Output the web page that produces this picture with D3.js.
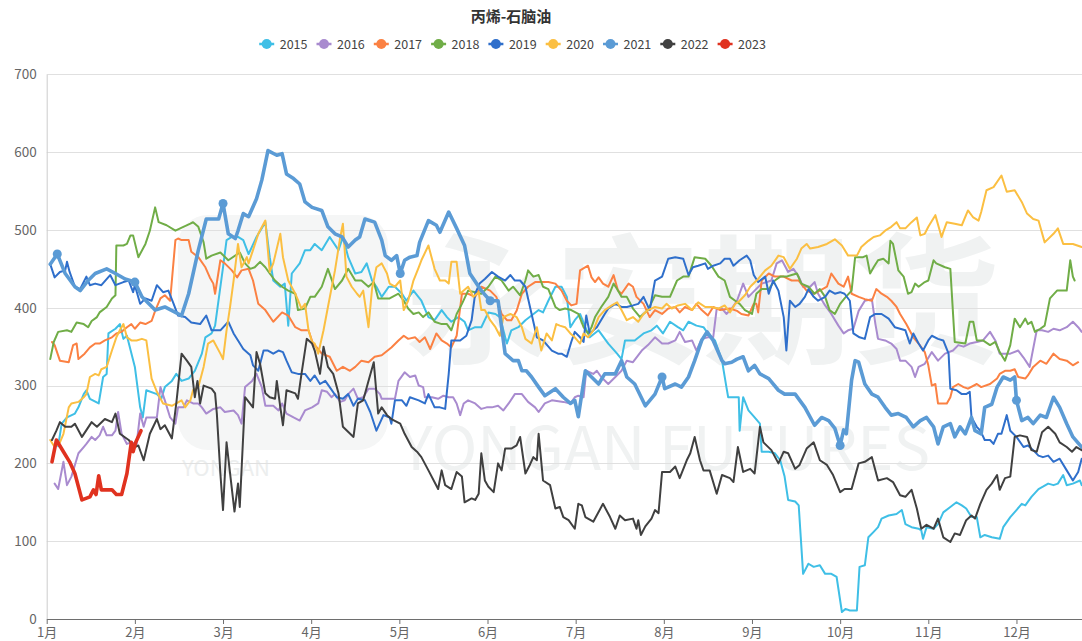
<!DOCTYPE html>
<html><head><meta charset="utf-8">
<script src="https://cdn.jsdelivr.net/npm/d3@7"></script>
<style>
html,body{margin:0;padding:0;background:#fff;}
svg{display:block;font-family:"Microsoft YaHei","Noto Sans CJK SC","Noto Sans",sans-serif;}
</style></head>
<body>
<svg id="chart" width="1082" height="641"></svg>
<script>
// ---- data (x = month position, 0 = 1 Jan, 1 = 1 Feb ...; y = spread) ----
const title = "丙烯-石脑油";
const years = ["2015","2016","2017","2018","2019","2020","2021","2022","2023"];
const monthLabels = ["1月","2月","3月","4月","5月","6月","7月","8月","9月","10月","11月","12月"];
const yTicks = [0,100,200,300,400,500,600,700];

const s2015 = [[0.13,222],[0.17,251],[0.23,259],[0.32,264],[0.36,272],[0.42,289],[0.45,294],[0.49,283],[0.59,277],[0.64,311],[0.68,315],[0.70,367],[0.78,373],[0.83,379],[0.87,360],[0.91,364],[1.00,324],[1.06,272],[1.09,259],[1.13,294],[1.25,289],[1.30,283],[1.34,298],[1.42,306],[1.47,315],[1.53,306],[1.61,309],[1.68,319],[1.76,341],[1.80,362],[1.87,367],[1.91,377],[2.00,452],[2.04,487],[2.10,491],[2.17,491],[2.23,487],[2.29,469],[2.38,491],[2.48,510],[2.53,465],[2.57,435],[2.65,427],[2.70,431],[2.74,377],[2.78,444],[2.87,457],[2.93,474],[2.99,474],[3.04,482],[3.12,474],[3.21,491],[3.31,474],[3.36,491],[3.42,465],[3.50,444],[3.57,446],[3.63,457],[3.69,435],[3.74,427],[3.80,414],[3.88,427],[3.95,427],[4.03,418],[4.08,409],[4.16,422],[4.25,409],[4.33,388],[4.40,384],[4.48,397],[4.54,388],[4.59,382],[4.67,388],[4.74,382],[4.78,371],[4.86,375],[4.93,375],[5.01,394],[5.09,392],[5.14,388],[5.22,354],[5.27,371],[5.35,375],[5.43,384],[5.50,390],[5.58,397],[5.63,394],[5.69,409],[5.77,427],[5.84,427],[5.90,414],[5.94,375],[5.99,384],[6.05,392],[6.11,375],[6.16,362],[6.26,371],[6.37,354],[6.47,341],[6.52,334],[6.56,358],[6.67,358],[6.77,367],[6.86,371],[6.92,377],[6.99,367],[7.07,382],[7.16,375],[7.22,371],[7.28,382],[7.37,377],[7.45,375],[7.50,367],[7.58,358],[7.66,332],[7.71,298],[7.73,285],[7.85,285],[7.86,242],[7.90,285],[7.96,268],[8.03,259],[8.09,251],[8.11,215],[8.19,215],[8.26,213],[8.32,204],[8.37,183],[8.41,153],[8.49,151],[8.53,146],[8.58,58],[8.64,71],[8.70,67],[8.77,69],[8.83,58],[8.90,58],[8.96,54],[9.02,9],[9.06,13],[9.11,11],[9.19,11],[9.22,67],[9.28,69],[9.32,105],[9.38,112],[9.43,118],[9.47,129],[9.55,133],[9.64,135],[9.70,140],[9.74,122],[9.81,118],[9.89,116],[9.92,114],[9.94,103],[9.98,118],[10.06,116],[10.11,122],[10.17,137],[10.25,144],[10.32,150],[10.38,146],[10.43,142],[10.49,131],[10.55,131],[10.59,105],[10.64,108],[10.72,105],[10.81,103],[10.85,118],[10.93,131],[11.00,140],[11.06,148],[11.10,146],[11.17,157],[11.25,167],[11.30,170],[11.36,174],[11.42,172],[11.47,174],[11.53,185],[11.57,172],[11.64,174],[11.72,178],[11.74,172]];

const s2016 = [[0.09,174],[0.13,167],[0.19,202],[0.23,172],[0.28,183],[0.32,198],[0.36,213],[0.42,221],[0.45,225],[0.51,234],[0.55,230],[0.60,236],[0.64,247],[0.68,236],[0.74,236],[0.78,242],[0.81,266],[0.85,238],[0.91,225],[0.96,227],[1.02,225],[1.06,264],[1.10,247],[1.13,259],[1.25,259],[1.29,298],[1.34,281],[1.40,259],[1.46,251],[1.49,272],[1.55,272],[1.59,281],[1.66,277],[1.72,277],[1.76,272],[1.81,264],[1.89,270],[1.97,272],[2.02,266],[2.12,268],[2.17,262],[2.21,251],[2.25,298],[2.33,306],[2.38,315],[2.44,298],[2.48,274],[2.57,274],[2.63,268],[2.67,277],[2.72,264],[2.80,259],[2.87,255],[2.93,268],[3.01,272],[3.08,277],[3.12,294],[3.18,292],[3.23,285],[3.27,289],[3.33,279],[3.38,281],[3.42,289],[3.48,296],[3.53,283],[3.59,285],[3.65,296],[3.72,296],[3.78,289],[3.80,283],[3.89,283],[3.95,283],[3.99,306],[4.06,317],[4.12,311],[4.18,313],[4.22,300],[4.27,298],[4.29,285],[4.37,285],[4.44,283],[4.50,287],[4.56,285],[4.61,285],[4.65,277],[4.69,262],[4.73,277],[4.78,281],[4.86,277],[4.93,270],[4.99,272],[5.05,272],[5.12,274],[5.18,268],[5.24,277],[5.31,289],[5.39,289],[5.46,279],[5.54,272],[5.58,266],[5.65,277],[5.73,281],[5.86,279],[5.94,277],[5.99,285],[6.03,287],[6.09,285],[6.12,319],[6.20,315],[6.24,319],[6.29,311],[6.37,302],[6.45,311],[6.52,319],[6.58,332],[6.65,330],[6.75,345],[6.82,352],[6.90,362],[6.98,354],[7.05,354],[7.13,358],[7.18,369],[7.24,356],[7.32,358],[7.37,345],[7.43,360],[7.50,362],[7.56,362],[7.60,399],[7.66,399],[7.71,392],[7.77,399],[7.83,409],[7.90,431],[7.96,414],[8.03,422],[8.11,431],[8.17,433],[8.22,435],[8.28,457],[8.34,461],[8.41,446],[8.47,450],[8.53,440],[8.58,427],[8.66,427],[8.71,433],[8.75,418],[8.83,403],[8.90,392],[8.98,377],[9.04,367],[9.09,371],[9.15,373],[9.21,396],[9.28,409],[9.36,411],[9.40,379],[9.43,360],[9.51,358],[9.58,354],[9.64,347],[9.68,332],[9.74,332],[9.81,324],[9.85,311],[9.89,324],[9.96,328],[10.04,343],[10.11,332],[10.19,341],[10.28,345],[10.34,352],[10.40,350],[10.47,354],[10.55,356],[10.62,358],[10.70,369],[10.76,358],[10.81,341],[10.93,341],[11.02,345],[11.08,336],[11.15,324],[11.23,371],[11.29,371],[11.36,369],[11.42,373],[11.49,371],[11.57,375],[11.64,382],[11.70,375],[11.74,369]];

const s2017 = [[0.06,356],[0.09,352],[0.15,332],[0.25,330],[0.30,352],[0.34,354],[0.36,334],[0.43,341],[0.49,349],[0.55,354],[0.60,354],[0.66,358],[0.74,362],[0.79,367],[0.85,369],[0.91,375],[0.96,379],[1.00,373],[1.06,381],[1.12,379],[1.19,383],[1.23,396],[1.29,412],[1.34,416],[1.40,409],[1.46,487],[1.49,489],[1.53,487],[1.61,487],[1.64,472],[1.72,465],[1.80,452],[1.85,439],[1.89,431],[1.91,418],[1.97,461],[2.02,457],[2.10,448],[2.16,439],[2.21,448],[2.29,450],[2.34,435],[2.40,405],[2.48,397],[2.57,382],[2.67,394],[2.74,390],[2.82,375],[2.89,371],[2.97,371],[3.02,354],[3.08,347],[3.12,341],[3.21,337],[3.29,319],[3.36,324],[3.44,319],[3.50,324],[3.57,332],[3.65,330],[3.72,337],[3.80,339],[3.91,349],[3.99,358],[4.05,364],[4.10,360],[4.18,362],[4.23,356],[4.29,362],[4.35,347],[4.42,367],[4.48,358],[4.54,354],[4.59,349],[4.65,364],[4.71,418],[4.78,418],[4.86,414],[4.93,427],[5.03,422],[5.10,414],[5.16,392],[5.22,384],[5.27,384],[5.33,396],[5.39,418],[5.46,427],[5.54,433],[5.61,433],[5.69,433],[5.77,431],[5.84,422],[5.90,409],[5.95,403],[6.01,405],[6.05,448],[6.14,454],[6.18,439],[6.22,433],[6.26,439],[6.31,431],[6.37,427],[6.43,442],[6.48,422],[6.52,418],[6.60,431],[6.65,427],[6.69,414],[6.77,405],[6.84,388],[6.90,397],[6.98,392],[7.05,399],[7.13,401],[7.18,394],[7.24,401],[7.32,397],[7.37,405],[7.43,397],[7.50,390],[7.56,401],[7.64,397],[7.75,399],[7.83,396],[7.88,392],[7.96,390],[8.02,405],[8.05,405],[8.07,394],[8.11,435],[8.19,444],[8.26,440],[8.36,440],[8.45,435],[8.53,435],[8.62,422],[8.70,418],[8.77,422],[8.85,427],[8.90,444],[8.98,431],[9.04,427],[9.09,440],[9.13,418],[9.21,414],[9.28,411],[9.36,409],[9.41,424],[9.47,418],[9.53,414],[9.58,409],[9.64,401],[9.68,392],[9.75,379],[9.83,362],[9.89,354],[9.96,343],[10.00,326],[10.04,300],[10.08,302],[10.11,277],[10.21,277],[10.25,285],[10.28,298],[10.34,302],[10.40,298],[10.45,296],[10.55,302],[10.60,298],[10.70,302],[10.78,309],[10.81,315],[10.87,319],[10.93,319],[10.98,321],[11.02,311],[11.10,309],[11.13,313],[11.19,324],[11.27,332],[11.34,328],[11.42,341],[11.49,334],[11.57,332],[11.64,326],[11.70,330]];

const s2018 = [[0.04,334],[0.08,356],[0.13,369],[0.23,371],[0.28,369],[0.34,381],[0.42,379],[0.47,375],[0.51,383],[0.57,388],[0.60,394],[0.68,401],[0.74,412],[0.78,416],[0.79,480],[0.87,480],[0.91,482],[0.95,493],[0.98,493],[1.04,465],[1.12,482],[1.17,499],[1.23,529],[1.27,510],[1.36,506],[1.46,499],[1.55,504],[1.63,508],[1.66,510],[1.72,504],[1.78,484],[1.81,463],[1.87,467],[1.97,471],[2.06,461],[2.19,471],[2.25,457],[2.31,450],[2.36,452],[2.42,459],[2.48,452],[2.53,444],[2.59,435],[2.67,427],[2.74,422],[2.82,418],[2.85,397],[2.93,399],[2.99,414],[3.04,414],[3.12,427],[3.19,450],[3.27,424],[3.35,435],[3.42,450],[3.50,435],[3.57,435],[3.65,427],[3.71,433],[3.76,412],[3.89,412],[3.99,418],[4.05,409],[4.10,399],[4.16,392],[4.22,394],[4.27,388],[4.33,394],[4.40,382],[4.48,379],[4.54,379],[4.59,371],[4.65,392],[4.71,405],[4.78,422],[4.86,420],[4.93,418],[5.01,427],[5.09,440],[5.16,435],[5.24,422],[5.29,427],[5.37,416],[5.43,435],[5.46,448],[5.52,440],[5.58,442],[5.63,427],[5.69,424],[5.77,401],[5.82,397],[5.88,399],[5.95,397],[6.03,392],[6.09,375],[6.14,367],[6.18,375],[6.22,388],[6.29,401],[6.37,414],[6.43,431],[6.47,424],[6.52,414],[6.58,414],[6.65,399],[6.73,388],[6.82,397],[6.90,416],[6.98,414],[7.07,414],[7.15,435],[7.22,440],[7.28,440],[7.35,465],[7.47,463],[7.54,454],[7.62,440],[7.69,435],[7.75,414],[7.81,409],[7.86,405],[7.92,397],[8.00,392],[8.05,418],[8.11,424],[8.19,424],[8.26,435],[8.32,440],[8.39,440],[8.45,442],[8.51,444],[8.56,431],[8.64,427],[8.71,418],[8.77,424],[8.83,414],[8.88,397],[8.94,392],[9.00,405],[9.05,412],[9.13,422],[9.17,465],[9.26,465],[9.30,467],[9.34,444],[9.38,452],[9.43,461],[9.49,463],[9.55,457],[9.57,486],[9.60,482],[9.66,448],[9.72,440],[9.77,418],[9.81,420],[9.85,431],[9.89,427],[9.96,433],[10.00,435],[10.06,461],[10.09,457],[10.19,452],[10.25,450],[10.30,356],[10.42,354],[10.47,382],[10.51,382],[10.55,358],[10.62,358],[10.70,352],[10.76,356],[10.81,343],[10.87,332],[10.93,352],[10.98,386],[11.04,375],[11.10,386],[11.13,379],[11.17,382],[11.21,369],[11.27,373],[11.32,377],[11.38,412],[11.46,422],[11.57,422],[11.61,461],[11.64,440],[11.66,435]];

const s2019 = [[0.04,456],[0.09,439],[0.15,446],[0.21,448],[0.23,459],[0.26,446],[0.32,427],[0.38,424],[0.45,440],[0.49,429],[0.55,431],[0.62,429],[0.72,442],[0.78,429],[0.87,433],[0.93,435],[0.98,420],[1.00,429],[1.06,405],[1.12,412],[1.19,409],[1.25,429],[1.32,420],[1.38,422],[1.44,405],[1.49,390],[1.57,388],[1.64,381],[1.74,379],[1.81,390],[1.87,371],[1.97,371],[2.06,382],[2.12,367],[2.17,358],[2.23,347],[2.31,339],[2.34,326],[2.40,319],[2.46,345],[2.51,345],[2.57,341],[2.63,345],[2.68,343],[2.72,332],[2.78,317],[2.85,315],[2.93,315],[2.99,306],[3.04,313],[3.10,302],[3.16,306],[3.21,298],[3.29,285],[3.36,283],[3.42,289],[3.48,274],[3.53,283],[3.61,281],[3.67,266],[3.74,242],[3.82,262],[3.89,259],[3.91,251],[3.95,281],[4.03,281],[4.08,274],[4.12,285],[4.22,281],[4.29,277],[4.33,289],[4.40,272],[4.46,272],[4.52,270],[4.56,315],[4.59,358],[4.69,358],[4.76,364],[4.82,384],[4.86,418],[4.91,431],[4.97,437],[5.05,446],[5.12,440],[5.20,435],[5.26,442],[5.31,435],[5.37,435],[5.43,427],[5.50,392],[5.56,362],[5.63,358],[5.73,345],[5.80,341],[5.84,341],[5.90,337],[5.95,356],[5.99,369],[6.05,362],[6.09,356],[6.12,390],[6.16,367],[6.24,375],[6.33,392],[6.37,399],[6.45,405],[6.52,401],[6.58,401],[6.65,403],[6.71,405],[6.77,414],[6.84,397],[6.90,435],[6.98,440],[7.05,463],[7.13,465],[7.22,463],[7.28,442],[7.33,452],[7.39,454],[7.47,457],[7.50,450],[7.56,454],[7.64,457],[7.69,463],[7.75,463],[7.79,454],[7.86,461],[7.94,467],[7.98,461],[8.02,442],[8.07,433],[8.15,440],[8.19,418],[8.24,435],[8.30,422],[8.36,388],[8.39,345],[8.43,409],[8.49,401],[8.54,405],[8.60,414],[8.64,424],[8.70,414],[8.75,409],[8.83,414],[8.88,422],[8.94,418],[9.00,420],[9.05,418],[9.11,409],[9.15,367],[9.22,362],[9.28,360],[9.34,388],[9.40,392],[9.47,392],[9.55,386],[9.62,375],[9.68,373],[9.74,371],[9.79,354],[9.83,367],[9.89,354],[9.94,345],[10.00,358],[10.04,364],[10.11,360],[10.17,358],[10.23,341],[10.25,296],[10.32,294],[10.38,289],[10.43,289],[10.47,292],[10.49,259],[10.55,247],[10.59,242],[10.64,230],[10.70,230],[10.74,225],[10.79,238],[10.83,238],[10.89,262],[10.93,242],[11.00,234],[11.08,221],[11.13,223],[11.19,217],[11.25,210],[11.30,208],[11.36,210],[11.42,202],[11.49,206],[11.57,191],[11.64,178],[11.70,189],[11.74,206]];

const s2020 = [[0.04,230],[0.09,221],[0.15,227],[0.19,238],[0.25,272],[0.28,277],[0.36,279],[0.42,285],[0.45,289],[0.49,311],[0.55,315],[0.59,313],[0.62,321],[0.68,324],[0.74,345],[0.79,362],[0.83,371],[0.87,379],[0.91,362],[0.96,358],[1.02,358],[1.08,360],[1.13,358],[1.19,309],[1.25,292],[1.32,277],[1.42,274],[1.47,277],[1.53,281],[1.57,272],[1.63,281],[1.66,294],[1.72,298],[1.78,324],[1.83,354],[1.89,358],[1.97,341],[2.00,334],[2.04,371],[2.08,401],[2.12,435],[2.17,482],[2.21,452],[2.27,465],[2.29,457],[2.34,474],[2.40,495],[2.48,512],[2.53,446],[2.57,457],[2.65,495],[2.68,465],[2.74,435],[2.82,418],[2.89,399],[2.93,405],[2.97,371],[3.01,356],[3.04,354],[3.08,341],[3.14,371],[3.19,401],[3.27,448],[3.33,491],[3.36,508],[3.40,440],[3.46,427],[3.52,418],[3.55,414],[3.59,422],[3.65,375],[3.69,424],[3.74,452],[3.80,457],[3.86,444],[3.89,431],[3.95,427],[4.01,435],[4.05,397],[4.10,409],[4.16,435],[4.22,452],[4.25,461],[4.33,480],[4.40,450],[4.46,435],[4.52,435],[4.56,431],[4.59,459],[4.65,459],[4.69,418],[4.73,422],[4.78,427],[4.84,414],[4.90,420],[4.93,397],[4.97,397],[5.03,384],[5.09,375],[5.14,364],[5.18,388],[5.26,392],[5.33,388],[5.39,375],[5.43,360],[5.50,354],[5.56,375],[5.61,345],[5.67,367],[5.73,358],[5.78,379],[5.82,377],[5.88,375],[5.94,367],[5.99,362],[6.05,354],[6.09,367],[6.14,362],[6.20,371],[6.26,388],[6.33,397],[6.41,403],[6.47,407],[6.52,397],[6.58,384],[6.65,388],[6.71,382],[6.77,392],[6.82,397],[6.90,401],[6.98,399],[7.03,405],[7.09,399],[7.16,403],[7.24,405],[7.32,397],[7.39,407],[7.47,401],[7.54,401],[7.62,399],[7.69,403],[7.75,394],[7.81,405],[7.86,409],[7.92,416],[7.98,427],[8.07,437],[8.15,448],[8.22,454],[8.30,467],[8.36,465],[8.43,450],[8.51,463],[8.56,476],[8.62,482],[8.66,476],[8.75,478],[8.85,482],[8.94,488],[9.02,480],[9.09,467],[9.19,467],[9.24,478],[9.32,486],[9.38,491],[9.45,493],[9.51,499],[9.58,504],[9.64,510],[9.68,502],[9.74,502],[9.81,510],[9.87,516],[9.91,493],[9.96,495],[10.00,504],[10.08,519],[10.15,491],[10.21,510],[10.30,508],[10.38,506],[10.45,525],[10.51,516],[10.57,512],[10.60,523],[10.66,551],[10.74,555],[10.83,570],[10.89,549],[10.98,551],[11.06,536],[11.12,521],[11.19,514],[11.25,512],[11.32,484],[11.42,495],[11.47,502],[11.53,482],[11.64,482],[11.74,478]];

const s2021 = [[0.04,456],[0.12,469],[0.21,444],[0.32,427],[0.38,422],[0.47,435],[0.55,444],[0.68,450],[0.78,444],[0.89,437],[1.00,433],[1.08,414],[1.23,397],[1.34,401],[1.53,390],[1.61,418],[1.72,474],[1.81,514],[1.95,514],[2.00,534],[2.06,495],[2.14,489],[2.17,499],[2.23,521],[2.29,517],[2.38,540],[2.44,564],[2.51,602],[2.61,596],[2.67,598],[2.72,572],[2.80,566],[2.87,559],[2.93,536],[3.01,529],[3.12,525],[3.19,504],[3.27,495],[3.35,491],[3.42,478],[3.50,487],[3.55,491],[3.61,514],[3.72,510],[3.80,487],[3.84,467],[3.91,461],[3.97,467],[4.01,444],[4.06,461],[4.12,465],[4.20,467],[4.23,484],[4.33,512],[4.42,506],[4.46,497],[4.56,523],[4.65,502],[4.74,480],[4.80,444],[4.93,422],[5.03,409],[5.12,409],[5.20,341],[5.29,332],[5.35,332],[5.39,319],[5.44,319],[5.50,311],[5.58,298],[5.65,287],[5.77,296],[5.86,285],[5.94,277],[5.99,281],[6.03,260],[6.11,319],[6.18,311],[6.26,302],[6.33,315],[6.45,315],[6.52,332],[6.58,311],[6.67,302],[6.79,274],[6.90,289],[6.98,311],[7.01,296],[7.13,302],[7.20,298],[7.28,311],[7.35,332],[7.43,358],[7.49,369],[7.56,358],[7.66,332],[7.69,328],[7.77,330],[7.83,334],[7.90,337],[7.96,319],[8.03,326],[8.09,315],[8.19,309],[8.30,294],[8.37,289],[8.49,289],[8.60,272],[8.71,249],[8.79,259],[8.87,255],[8.94,245],[9.00,223],[9.04,243],[9.07,238],[9.13,307],[9.17,332],[9.21,330],[9.28,302],[9.36,289],[9.43,285],[9.51,272],[9.58,262],[9.66,264],[9.75,259],[9.83,247],[9.91,255],[9.98,259],[10.06,247],[10.11,225],[10.17,247],[10.25,251],[10.30,234],[10.36,247],[10.42,238],[10.49,259],[10.53,242],[10.60,238],[10.64,272],[10.72,276],[10.78,298],[10.85,311],[10.93,307],[10.98,311],[11.00,281],[11.06,255],[11.13,259],[11.19,251],[11.27,262],[11.34,259],[11.42,285],[11.49,272],[11.57,251],[11.64,234],[11.74,221]];

const s2022 = [[0.06,230],[0.11,242],[0.15,253],[0.21,247],[0.28,247],[0.32,251],[0.40,234],[0.51,253],[0.57,247],[0.66,257],[0.74,253],[0.78,264],[0.83,238],[0.93,230],[1.00,221],[1.04,223],[1.10,204],[1.17,238],[1.25,257],[1.29,244],[1.34,249],[1.42,232],[1.47,277],[1.53,341],[1.59,332],[1.64,324],[1.68,285],[1.71,306],[1.74,277],[1.78,300],[1.87,296],[1.91,290],[1.93,264],[1.97,187],[2.00,140],[2.04,227],[2.08,187],[2.13,138],[2.17,174],[2.19,144],[2.25,285],[2.34,272],[2.38,343],[2.42,328],[2.48,290],[2.53,285],[2.59,283],[2.61,306],[2.65,272],[2.68,249],[2.72,294],[2.82,290],[2.85,283],[2.89,315],[2.95,360],[3.01,354],[3.04,345],[3.10,315],[3.14,350],[3.19,324],[3.25,315],[3.31,290],[3.36,247],[3.48,234],[3.53,277],[3.59,281],[3.65,306],[3.71,330],[3.76,264],[3.80,272],[3.86,262],[3.91,257],[4.01,251],[4.06,238],[4.14,221],[4.20,215],[4.25,208],[4.33,191],[4.44,167],[4.48,191],[4.52,172],[4.59,167],[4.65,189],[4.71,183],[4.74,150],[4.82,155],[4.86,153],[4.90,161],[4.93,213],[4.97,178],[5.01,170],[5.07,163],[5.12,200],[5.16,191],[5.20,219],[5.27,219],[5.33,223],[5.37,234],[5.43,187],[5.48,198],[5.52,208],[5.56,204],[5.58,238],[5.63,178],[5.71,172],[5.77,142],[5.82,144],[5.86,131],[5.92,127],[5.99,116],[6.03,148],[6.07,146],[6.11,131],[6.20,125],[6.31,148],[6.39,131],[6.45,116],[6.50,133],[6.56,127],[6.65,129],[6.69,116],[6.71,127],[6.74,108],[6.79,119],[6.86,129],[6.90,140],[6.94,136],[6.98,189],[7.07,189],[7.13,196],[7.18,181],[7.26,204],[7.30,213],[7.35,234],[7.41,204],[7.45,191],[7.52,191],[7.60,161],[7.66,185],[7.75,181],[7.79,176],[7.84,221],[7.90,189],[7.98,193],[8.03,187],[8.09,247],[8.13,227],[8.22,217],[8.30,200],[8.36,215],[8.41,213],[8.49,193],[8.54,198],[8.62,219],[8.70,227],[8.77,204],[8.85,198],[8.92,185],[9.00,163],[9.05,167],[9.13,167],[9.21,200],[9.28,202],[9.36,208],[9.43,178],[9.53,181],[9.60,176],[9.68,159],[9.74,157],[9.81,166],[9.87,142],[9.92,116],[9.98,121],[10.06,116],[10.11,129],[10.17,105],[10.25,99],[10.30,110],[10.36,108],[10.43,127],[10.49,133],[10.53,129],[10.59,148],[10.66,166],[10.72,174],[10.78,185],[10.81,166],[10.87,181],[10.93,183],[10.98,234],[11.04,236],[11.12,234],[11.17,217],[11.23,215],[11.29,240],[11.36,247],[11.44,238],[11.49,227],[11.57,221],[11.63,215],[11.68,221],[11.74,217]];

const s2023 = [[0.06,202],[0.11,230],[0.19,215],[0.26,202],[0.32,187],[0.36,170],[0.40,153],[0.49,157],[0.53,166],[0.56,160],[0.59,184],[0.62,166],[0.74,166],[0.79,160],[0.85,160],[0.91,187],[0.96,227],[0.98,215],[1.01,227],[1.07,242]];

// points of 2021 where the reference shows a symbol
const markers2021 = [0.12, 1.00, 2.00, 4.01, 5.03, 6.98, 9.00, 11.00];

// ---- styles ----
const seriesValues = [s2015,s2016,s2017,s2018,s2019,s2020,s2021,s2022,s2023];
const colors = ["#3fbfe6","#a98bcf","#fb8143","#70ad47","#2f6fcb","#fbbf42","#5b9bd5","#404040","#e0321f"];
const widths = [2,2,2,2,2,2,3.6,2,3.6];

const svg = d3.select("#chart");
const W = 1082, H = 641;
const x = d3.scaleLinear().domain([0, 11.74]).range([46.7, 1081.7]);
const y = d3.scaleLinear().domain([0, 700]).range([619, 74.3]);

// faint watermark
const wm = svg.append("g").attr("fill", "#f0f2f2");
wm.append("rect").attr("x", 178).attr("y", 215).attr("width", 210).attr("height", 235).attr("rx", 30)
  .attr("fill", "#f5f6f6");
wm.append("text").attr("x", 405).attr("y", 352).attr("font-size", 140).attr("font-weight", "bold")
  .attr("textLength", 595).attr("lengthAdjust", "spacingAndGlyphs").text("永安期货");
wm.append("text").attr("x", 400).attr("y", 470).attr("font-size", 60)
  .attr("textLength", 530).attr("lengthAdjust", "spacingAndGlyphs").text("YONGAN FUTURES");
wm.append("text").attr("x", 182).attr("y", 476).attr("font-size", 22).attr("fill", "#eceeee").text("YONGAN");

// gridlines
svg.append("g").selectAll("line").data(yTicks.filter(d => d > 0)).join("line")
  .attr("x1", x(0)).attr("x2", W).attr("y1", d => Math.round(y(d)) + 0.5).attr("y2", d => Math.round(y(d)) + 0.5)
  .attr("stroke", "#e0e0e0").attr("stroke-width", 1);

// y axis
const yAxis = svg.append("g").attr("transform", `translate(${x(0)},0)`)
  .call(d3.axisLeft(y).tickValues(yTicks).tickSize(0).tickPadding(10));
yAxis.select(".domain").attr("stroke", "#cccccc");
yAxis.selectAll("text").attr("font-size", 13.5).attr("fill", "#666").attr("font-family", "'Microsoft YaHei','Noto Sans CJK SC',sans-serif");

// x axis
const xAxis = svg.append("g").attr("transform", `translate(0,${y(0)})`)
  .call(d3.axisBottom(x).tickValues(d3.range(12)).tickFormat(i => monthLabels[i]).tickSize(5).tickPadding(4).tickSizeOuter(0));
xAxis.select(".domain").attr("stroke", "#6e6e6e").attr("stroke-width", 1.2);
xAxis.selectAll(".tick line").attr("stroke", "#6e6e6e");
xAxis.selectAll("text").attr("font-size", 13).attr("fill", "#666").attr("font-family", "'Microsoft YaHei','Noto Sans CJK SC',sans-serif");

// clip
svg.append("clipPath").attr("id", "plot").append("rect")
  .attr("x", x(0)).attr("y", 60).attr("width", W - x(0)).attr("height", y(0) - 60 + 2);

const line = d3.line().x(d => x(d[0])).y(d => y(d[1]));
const plot = svg.append("g").attr("clip-path", "url(#plot)");
seriesValues.forEach((s, i) => {
  plot.append("path").datum(s).attr("d", line).attr("fill", "none")
    .attr("stroke", colors[i]).attr("stroke-width", widths[i])
    .attr("stroke-linejoin", "round").attr("stroke-linecap", "round");
  if (years[i] === "2021") {
    const pts = markers2021.map(m => s.find(p => Math.abs(p[0] - m) < 1e-6)).filter(Boolean);
    plot.append("g").selectAll("circle").data(pts).join("circle")
      .attr("cx", d => x(d[0])).attr("cy", d => y(d[1])).attr("r", 4.5).attr("fill", colors[i]);
  }
});

// title
svg.append("text").attr("x", 511).attr("y", 22).attr("text-anchor", "middle")
  .attr("font-size", 15).attr("font-weight", "bold").attr("fill", "#333").text(title);

// legend
const legend = svg.append("g");
years.forEach((yr, i) => {
  const cx = 266.7 + i * 57.3, cy = 44;
  legend.append("line").attr("x1", cx - 7.5).attr("x2", cx + 7.5).attr("y1", cy).attr("y2", cy)
    .attr("stroke", colors[i]).attr("stroke-width", 2.5);
  legend.append("circle").attr("cx", cx).attr("cy", cy).attr("r", 5).attr("fill", colors[i]);
  legend.append("text").attr("x", cx + 13).attr("y", cy + 4.5).attr("font-size", 12.5)
    .attr("fill", "#444").text(yr);
});
</script>
</body></html>
